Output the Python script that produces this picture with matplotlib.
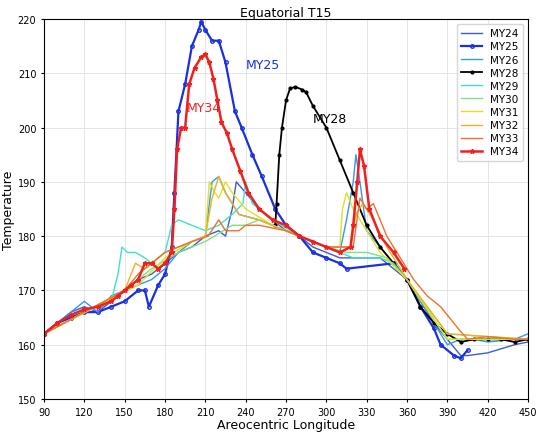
import matplotlib.pyplot as plt

# ==== DATA (Ls, Temperature) ====
my24_ls = [90, 100, 110, 120, 130, 140, 150, 160, 170, 180, 190, 200, 210, 220, 225, 230, 233, 240, 250, 260, 270, 280, 290, 300, 310, 320, 330, 340, 350, 360, 370, 380, 390, 400, 405, 420, 440, 450]
my24_t = [162, 164, 166, 167, 166, 168, 170, 172, 173, 175, 177, 178, 180, 181, 180, 185, 190, 188, 185, 183, 181, 180, 178, 177, 176, 176, 176, 176, 174, 172, 168, 164, 161, 158, 158, 158.5, 160, 160.5]

my25_ls = [90, 100, 110, 120, 130, 140, 150, 160, 165, 168, 175, 180, 185, 187, 190, 195, 200, 205, 207, 210, 215, 220, 225, 232, 237, 245, 252, 262, 270, 280, 290, 300, 310, 315, 350, 360, 370, 380, 385, 395, 400, 405]
my25_t = [162, 164, 165, 166, 166, 167, 168, 170, 170, 167, 171, 173, 178, 188, 203, 208, 215, 218, 219.5, 218, 216, 216, 212, 203, 200, 195, 191, 185, 182, 180, 177, 176, 175, 174, 175, 172, 167, 163, 160, 158, 157.5, 159]

my26_ls = [90, 100, 110, 115, 120, 125, 130, 140, 150, 160, 170, 180, 190, 200, 210, 215, 220, 225, 235, 250, 270, 290, 300, 310, 315, 320, 322, 325, 330, 340, 360, 370, 380, 390, 400, 410, 420, 440, 450]
my26_t = [162, 164, 166, 167, 168, 167, 166, 169, 170, 171, 172, 174, 177, 179, 180, 190, 191, 188, 184, 183, 181, 179, 178, 177, 183, 190, 195, 190, 181, 178, 172, 168, 164, 160, 161, 161, 160.5, 161, 162]

my28_ls = [262, 263, 265, 267, 270, 273, 277, 282, 285, 290, 300, 310, 320, 330, 340, 350, 360, 370, 380, 390, 400, 410, 420, 430, 440, 450]
my28_t = [182, 186, 195, 200, 205, 207.2, 207.5, 207, 206.5, 204, 200, 194, 188, 182, 178, 175, 172, 167, 164, 162, 160.5, 161, 161, 161, 160.5, 161]

my29_ls = [90, 120, 140, 145, 148, 152, 158, 165, 170, 175, 180, 185, 190, 200, 210, 220, 230, 238, 240, 245, 260, 280, 300, 310, 320, 330, 340, 350, 360, 390, 450]
my29_t = [162, 166, 168, 173, 178, 177, 177, 176, 175, 176, 177, 182, 183, 182, 181, 182, 184, 186, 190, 186, 183, 180, 178, 177, 176, 176, 176, 175, 172, 161, 161]

my30_ls = [90, 150, 170, 190, 210, 230, 240, 250, 260, 280, 300, 315, 330, 345, 360, 390, 450]
my30_t = [162, 170, 174, 177, 179, 182, 182, 183, 182, 180, 178, 177, 177, 176, 172, 162, 161]

my31_ls = [90, 160, 180, 200, 210, 213, 217, 220, 225, 230, 240, 260, 280, 300, 310, 312, 315, 320, 330, 340, 360, 390, 450]
my31_t = [162, 171, 176, 179, 180, 190, 188, 187, 190, 188, 185, 182, 180, 178, 178, 185, 188, 185, 181, 177, 172, 161, 161]

my32_ls = [90, 150, 158, 165, 180, 200, 210, 215, 220, 225, 235, 250, 270, 300, 318, 322, 327, 335, 345, 360, 375, 390, 450]
my32_t = [162, 170, 175, 174, 177, 179, 180, 187, 191, 188, 184, 183, 181, 178, 178, 184, 186, 183, 178, 172, 167, 162, 161]

my33_ls = [90, 150, 160, 170, 180, 200, 212, 220, 225, 235, 240, 250, 270, 300, 320, 325, 330, 335, 340, 345, 355, 365, 375, 385, 398, 405, 420, 440, 450]
my33_t = [162, 170, 173, 175, 177, 179, 180, 183, 181, 181, 182, 182, 181, 178, 178, 187, 185, 186, 183, 180, 176, 172, 169, 167, 163, 161, 161.5, 161, 161]

my34_ls = [90, 100, 110, 120, 130, 140, 145, 150, 155, 160, 165, 170, 175, 180, 185, 187, 189, 192, 195, 198, 202, 207, 210, 213, 216, 219, 222, 226, 230, 236, 242, 250, 260, 270, 280, 290, 300, 310, 318, 320, 323, 325, 328, 332, 340, 350, 358]
my34_t = [162, 164, 165.5, 166.5, 167, 168, 169, 170, 171, 172, 175, 175, 174, 175, 177, 185, 196, 200, 200, 208, 211, 213, 213.5, 212, 209, 205, 201, 199, 196, 192, 188, 185, 183, 182, 180, 179, 178, 177, 178, 182, 190, 196, 193, 185, 180, 177, 174]

fig = plt.figure(figsize=(5.45, 4.39), dpi=100)
ax = fig.add_axes([44/545, 39/439, 484/545, 380/439])

ax.plot(my24_ls, my24_t, color="#3a5fcd", lw=1, label="MY24")
ax.plot(my25_ls, my25_t, color="#1a2fe0", lw=1.6, marker="o", ms=2.5, mfc="none", label="MY25")
ax.plot(my26_ls, my26_t, color="#3399ee", lw=1, label="MY26")
ax.plot(my28_ls, my28_t, color="black", lw=1.3, marker="o", ms=2, label="MY28")
ax.plot(my29_ls, my29_t, color="#40e0d0", lw=1, label="MY29")
ax.plot(my30_ls, my30_t, color="#80e080", lw=1, label="MY30")
ax.plot(my31_ls, my31_t, color="#e0e020", lw=1, label="MY31")
ax.plot(my32_ls, my32_t, color="#f0b020", lw=1, label="MY32")
ax.plot(my33_ls, my33_t, color="#f07030", lw=1, label="MY33")
ax.plot(my34_ls, my34_t, color="#ee2020", lw=1.8, marker="*", ms=3.5, label="MY34")

ax.text(240, 211, "MY25", color="#1a2fe0", fontsize=9)
ax.text(196, 203, "MY34", color="#ee2020", fontsize=9)
ax.text(290, 201, "MY28", color="black", fontsize=9)

ax.set_xlim(90, 450)
ax.set_ylim(150, 220)
ax.set_xticks(range(90, 451, 30))
ax.set_yticks(range(150, 221, 10))
ax.tick_params(labelsize=7, length=2)
ax.grid(True, color="#e0e0e0", lw=0.6)
ax.set_title("Equatorial T15", fontsize=9, pad=2)
ax.set_xlabel("Areocentric Longitude", fontsize=9, labelpad=1)
ax.set_ylabel("Temperature", fontsize=9, labelpad=2)
ax.legend(loc="upper right", fontsize=7.5, handlelength=2, labelspacing=0.3)

fig.savefig("out.png")
